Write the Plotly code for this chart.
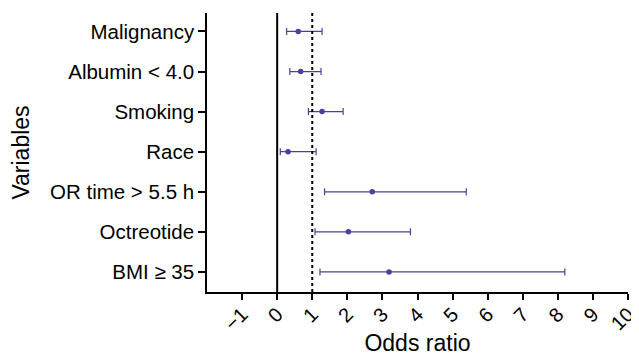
import plotly.graph_objects as go

variables = ["Malignancy", "Albumin < 4.0", "Smoking", "Race", "OR time > 5.5 h", "Octreotide", "BMI \u2265 35"]
odds_ratio = [0.60, 0.67, 1.28, 0.31, 2.71, 2.03, 3.19]
ci_low = [0.27, 0.36, 0.89, 0.09, 1.35, 1.08, 1.22]
ci_high = [1.28, 1.25, 1.88, 1.11, 5.39, 3.80, 8.20]
x_ticks = [-1, 0, 1, 2, 3, 4, 5, 6, 7, 8, 9, 10]

color = "#4b3f9f"
font_family = "Liberation Sans, Arial, sans-serif"

fig = go.Figure()
fig.add_trace(go.Scatter(
    x=odds_ratio,
    y=variables,
    mode="markers",
    marker=dict(color=color, size=5.5),
    error_x=dict(
        type="data",
        symmetric=False,
        array=[h - o for h, o in zip(ci_high, odds_ratio)],
        arrayminus=[o - l for o, l in zip(odds_ratio, ci_low)],
        color=color,
        thickness=1.2,
        width=3.5,
    ),
    showlegend=False,
))

fig.add_shape(type="line", xref="x", yref="paper", x0=0, x1=0, y0=0, y1=1,
              line=dict(color="black", width=2))
fig.add_shape(type="line", xref="x", yref="paper", x0=1, x1=1, y0=0, y1=1,
              line=dict(color="black", width=2, dash="dot"))

# the page body adds an 8px offset, so the figure is sized to the visible area
fig.update_layout(
    width=631, height=348,
    margin=dict(l=199, r=11, t=5, b=64),
    paper_bgcolor="white", plot_bgcolor="white",
    font=dict(family=font_family, color="black"),
    xaxis=dict(
        automargin=False,
        range=[-2, 10],
        tickmode="array", tickvals=x_ticks, ticktext=[str(v) if v >= 0 else "\u22121" for v in x_ticks],
        tickangle=-45,
        ticks="outside", ticklen=6, tickwidth=1.5, tickcolor="black",
        showline=True, linecolor="black", linewidth=1.5,
        showgrid=False, zeroline=False,
        tickfont=dict(size=20),
        ticklabelstandoff=-5,
        title=dict(text="Odds ratio", font=dict(size=23), standoff=14),
    ),
    yaxis=dict(
        automargin=False,
        type="category",
        categoryorder="array", categoryarray=variables,
        range=[6.5, -0.46],
        ticks="outside", ticklen=7, tickwidth=1.5, tickcolor="black",
        showline=True, linecolor="black", linewidth=1.5,
        showgrid=False, zeroline=False,
        tickfont=dict(size=20.5),
        title=dict(text="Variables", font=dict(size=23), standoff=15),
    ),
)

fig.write_html("out.html")
